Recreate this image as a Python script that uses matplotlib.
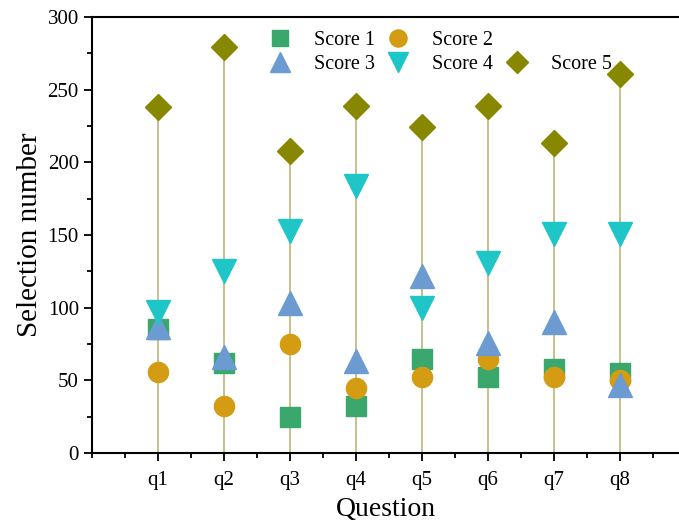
import matplotlib.pyplot as plt
from matplotlib.ticker import MultipleLocator

plt.rcParams['font.family'] = ['Liberation Serif', 'DejaVu Serif']

questions = ['q1', 'q2', 'q3', 'q4', 'q5', 'q6', 'q7', 'q8']
score1 = [85, 62, 25, 32, 65, 52, 58, 55]
score2 = [56, 32, 75, 45, 52, 65, 52, 50]
score3 = [87, 66, 103, 63, 122, 76, 90, 47]
score4 = [97, 125, 153, 184, 100, 131, 151, 151]
score5 = [238, 279, 208, 239, 224, 239, 213, 261]

x = list(range(1, len(questions) + 1))

fig = plt.figure(figsize=(6.79, 5.26), dpi=100)
ax = fig.add_axes([0.1355, 0.1388, 0.8645, 0.829])

# drop lines from zero up to the Score 5 marker
ax.vlines(x, 0, score5, color='#c2bb84', lw=1.3, zorder=1)

ms = 14.5
h1, = ax.plot(x, score1, ls='none', marker='s', ms=ms * 0.95, color='#3aa76d', zorder=3)
h2, = ax.plot(x, score2, ls='none', marker='o', ms=ms, color='#d49c12', zorder=3)
h3, = ax.plot(x, score3, ls='none', marker='^', ms=ms * 1.15, color='#6b9bd0', zorder=3)
h4, = ax.plot(x, score4, ls='none', marker='v', ms=ms * 1.15, color='#1ec6c8', zorder=3)
h5, = ax.plot(x, score5, ls='none', marker='D', ms=ms * 0.9, color='#878700', zorder=3)
blank, = ax.plot([], [], ls='none')

ax.set_xlim(0, 8.9)
ax.set_ylim(0, 300)
ax.set_xticks(x)
ax.set_xticklabels(questions)
ax.xaxis.set_minor_locator(MultipleLocator(0.5))
ax.yaxis.set_major_locator(MultipleLocator(50))
ax.yaxis.set_minor_locator(MultipleLocator(25))
ax.tick_params(which='major', direction='out', length=6, width=1.3, labelsize=15)
ax.tick_params(axis='x', which='major', pad=7)
ax.tick_params(which='minor', direction='out', length=3.5, width=1.3)
ax.spines['right'].set_visible(False)
for s in ['left', 'bottom', 'top']:
    ax.spines[s].set_linewidth(1.5)

ax.set_xlabel('Question', fontsize=20, labelpad=5)
ax.set_ylabel('Selection number', fontsize=21, labelpad=3)

ax.legend([h1, h3, h2, h4, blank, h5],
          ['Score 1', 'Score 3', 'Score 2', 'Score 4', '', 'Score 5'],
          ncol=3, frameon=False, fontsize=14.5, loc='upper left',
          bbox_to_anchor=(0.265, 0.995), handletextpad=0.7, columnspacing=0.15,
          labelspacing=0.25, borderaxespad=0.2, markerscale=0.85)

fig.savefig('out.png', dpi=100)
